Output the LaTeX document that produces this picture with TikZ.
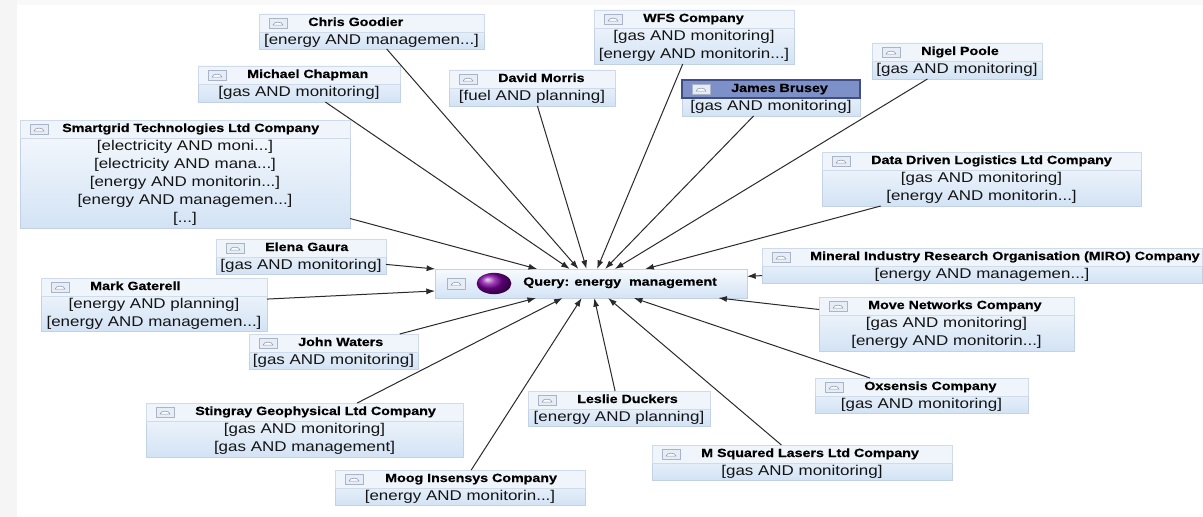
\documentclass[tikz,border=0pt]{standalone}
\usepackage{fontspec}
\setmainfont{Liberation Sans}[FakeStretch=1.2, BoldFeatures={FakeBold=0.6}]
\usetikzlibrary{arrows.meta}
\definecolor{bordc}{HTML}{C3D1E4}
\definecolor{topc}{HTML}{F7FAFD}
\definecolor{botc}{HTML}{D3E3F5}
\definecolor{titc}{HTML}{F0F5FB}
\definecolor{sepc}{HTML}{CFDAEA}
\definecolor{selc}{HTML}{7E90C8}
\definecolor{selb}{HTML}{3F4E85}
\definecolor{edgec}{HTML}{2A2A2A}
\definecolor{iconb}{HTML}{A9B5C7}
\definecolor{iconf}{HTML}{E6EDF6}
\definecolor{domec}{HTML}{8A96A8}
\definecolor{ballc}{RGB}{125,0,160}
\tikzset{
  x=0.75pt, y=-0.75pt,
  entbox/.style={rectangle, draw=bordc, line width=0.6pt, top color=topc, bottom color=botc, inner sep=0pt, outer sep=0pt},
  titrow/.style={fill=titc, draw=sepc, line width=0.5pt},
  selrow/.style={fill=selc, draw=selb, line width=0.8pt},
  iconst/.style={fill=iconf, draw=iconb, line width=0.4pt},
  domest/.style={draw=domec, fill=white, line width=0.4pt},
  titletxt/.style={font=\fontsize{8.9}{10}\selectfont\bfseries, inner sep=0pt, text=black},
  bodytxt/.style={font=\fontsize{10.6}{12}\selectfont, inner sep=0pt, text=black!92},
  edge/.style={draw=edgec, line width=0.75pt, -{Latex[length=6.5pt,width=4.5pt]}},
}
\newcommand\ent[8]{%
  \node[entbox, anchor=north west, minimum width={(#4-#2)*0.75pt}, minimum height={(#5-#3)*0.75pt}] (#1) at (#2,#3) {};
  \path[#7] (#1.north west) rectangle ([yshift=-13.5pt]#1.north east);
  \draw[iconst] ([xshift=7.5pt,yshift=-3pt]#1.north west) rectangle ([xshift=21pt,yshift=-10.5pt]#1.north west);
  \draw[domest] ([xshift=10.6pt,yshift=-8.3pt]#1.north west) arc[start angle=180,end angle=0,x radius=3.65pt,y radius=2.2pt] -- cycle;
  \node[titletxt, anchor=base west] (#1-t) at ([xshift=#6*0.75pt,yshift=-9pt]#1.north west) {#8};
}
\newcommand\bl[3]{%
  \pgfmathsetmacro\blyy{-(22.9+(#2-1)*13.5)}%
  \node[bodytxt, anchor=base] (#1-#2) at ([yshift=\blyy pt]#1.north) {#3};
}
\begin{document}
\begin{tikzpicture}
\useasboundingbox (0,0) rectangle (1203,517);
\fill[white] (0,0) rectangle (1203,517);
\fill[black!4] (0,0) rectangle (17,517);
\fill[black!2.5] (17,0) rectangle (1203,5);

% query node
\node[entbox, anchor=north west, minimum width=234pt, minimum height=21.75pt] (q) at (435,269) {};
\draw[iconst] ([xshift=9pt,yshift=4pt]q.west) rectangle ([xshift=22.5pt,yshift=-4pt]q.west);
\draw[domest] ([xshift=12.1pt,yshift=-1.2pt]q.west) arc[start angle=180,end angle=0,x radius=3.65pt,y radius=2.2pt] -- cycle;
\shade[ball color=ballc] ([xshift=44.25pt]q.west) ellipse [x radius=13pt, y radius=8pt];
\node[titletxt, anchor=base west] (q-t) at ([xshift=66pt,yshift=-12.5pt]q.north west) {Query: energy\ \ management};

% entities
\ent{chris}{259}{14}{484}{49}{49}{titrow}{Chris Goodier}
\bl{chris}{1}{[energy AND managemen...]}
\ent{wfs}{594}{10}{794}{64}{49}{titrow}{WFS Company}
\bl{wfs}{1}{[gas AND monitoring]}
\bl{wfs}{2}{[energy AND monitorin...]}
\ent{michael}{198}{66}{400}{102}{49}{titrow}{Michael Chapman}
\bl{michael}{1}{[gas AND monitoring]}
\ent{david}{449}{70}{615}{106}{49}{titrow}{David Morris}
\bl{david}{1}{[fuel AND planning]}
\ent{james}{682}{80}{860}{116}{49}{selrow}{James Brusey}
\bl{james}{1}{[gas AND monitoring]}
\ent{nigel}{872}{43}{1042}{79}{49}{titrow}{Nigel Poole}
\bl{nigel}{1}{[gas AND monitoring]}
\ent{smart}{20}{120}{350}{228}{42}{titrow}{Smartgrid Technologies Ltd Company}
\bl{smart}{1}{[electricity AND moni...]}
\bl{smart}{2}{[electricity AND mana...]}
\bl{smart}{3}{[energy AND monitorin...]}
\bl{smart}{4}{[energy AND managemen...]}
\bl{smart}{5}{[...]}
\ent{ddl}{822}{152}{1141}{206}{49}{titrow}{Data Driven Logistics Ltd Company}
\bl{ddl}{1}{[gas AND monitoring]}
\bl{ddl}{2}{[energy AND monitorin...]}
\ent{elena}{216}{239}{386}{274}{49}{titrow}{Elena Gaura}
\bl{elena}{1}{[gas AND monitoring]}
\ent{mark}{41}{278}{267}{331}{49}{titrow}{Mark Gaterell}
\bl{mark}{1}{[energy AND planning]}
\bl{mark}{2}{[energy AND managemen...]}
\ent{miro}{762}{248}{1202}{283}{48}{titrow}{Mineral Industry Research Organisation (MIRO) Company}
\bl{miro}{1}{[energy AND managemen...]}
\ent{move}{819}{297}{1074}{351}{49}{titrow}{Move Networks Company}
\bl{move}{1}{[gas AND monitoring]}
\bl{move}{2}{[energy AND monitorin...]}
\ent{john}{249}{334}{418}{369}{49}{titrow}{John Waters}
\bl{john}{1}{[gas AND monitoring]}
\ent{oxs}{815}{378}{1028}{413}{49}{titrow}{Oxsensis Company}
\bl{oxs}{1}{[gas AND monitoring]}
\ent{leslie}{528}{391}{710}{426}{49}{titrow}{Leslie Duckers}
\bl{leslie}{1}{[energy AND planning]}
\ent{sting}{146}{403}{463}{457}{49}{titrow}{Stingray Geophysical Ltd Company}
\bl{sting}{1}{[gas AND monitoring]}
\bl{sting}{2}{[gas AND management]}
\ent{msq}{652}{445}{952}{480}{49}{titrow}{M Squared Lasers Ltd Company}
\bl{msq}{1}{[gas AND monitoring]}
\ent{moog}{335}{470}{585}{505}{50}{titrow}{Moog Insensys Company}
\bl{moog}{1}{[energy AND monitorin...]}

% connectors
\foreach \n in {chris,wfs,michael,david,james,nigel,smart,ddl,elena,mark,miro,move,john,oxs,leslie,sting,msq,moog}
  \draw[edge] (\n) -- (q);
\end{tikzpicture}
\end{document}
